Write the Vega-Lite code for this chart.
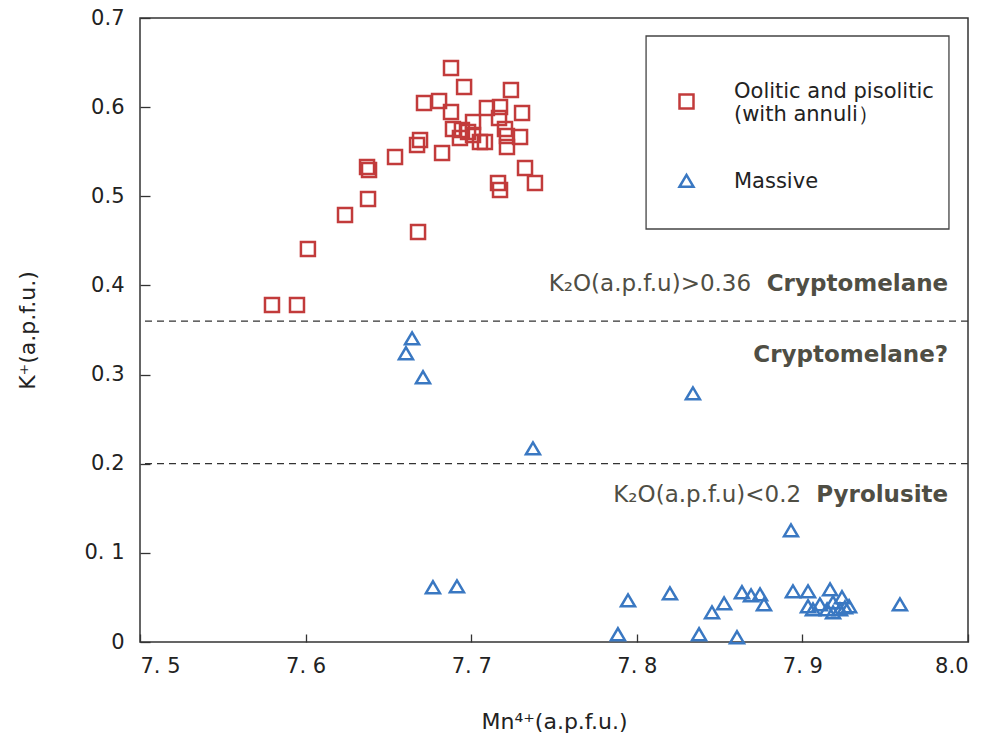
{
  "$schema": "https://vega.github.io/schema/vega-lite/v6.json",
  "width": 828,
  "height": 624,
  "autosize": {"type": "none"},
  "padding": {"left": 140, "top": 18, "right": 19, "bottom": 105},
  "background": "white",
  "data": {
    "values": [
      {"mn": 7.6878, "k": 0.6439, "type": "Oolitic and pisolitic (with annuli）"},
      {"mn": 7.6957, "k": 0.6226, "type": "Oolitic and pisolitic (with annuli）"},
      {"mn": 7.7240, "k": 0.6193, "type": "Oolitic and pisolitic (with annuli）"},
      {"mn": 7.6715, "k": 0.6047, "type": "Oolitic and pisolitic (with annuli）"},
      {"mn": 7.6806, "k": 0.6069, "type": "Oolitic and pisolitic (with annuli）"},
      {"mn": 7.6878, "k": 0.5946, "type": "Oolitic and pisolitic (with annuli）"},
      {"mn": 7.7095, "k": 0.5991, "type": "Oolitic and pisolitic (with annuli）"},
      {"mn": 7.7174, "k": 0.6002, "type": "Oolitic and pisolitic (with annuli）"},
      {"mn": 7.7168, "k": 0.5878, "type": "Oolitic and pisolitic (with annuli）"},
      {"mn": 7.7307, "k": 0.5934, "type": "Oolitic and pisolitic (with annuli）"},
      {"mn": 7.7011, "k": 0.5834, "type": "Oolitic and pisolitic (with annuli）"},
      {"mn": 7.6890, "k": 0.5755, "type": "Oolitic and pisolitic (with annuli）"},
      {"mn": 7.6944, "k": 0.5744, "type": "Oolitic and pisolitic (with annuli）"},
      {"mn": 7.6981, "k": 0.5721, "type": "Oolitic and pisolitic (with annuli）"},
      {"mn": 7.7011, "k": 0.5688, "type": "Oolitic and pisolitic (with annuli）"},
      {"mn": 7.7053, "k": 0.5609, "type": "Oolitic and pisolitic (with annuli）"},
      {"mn": 7.7083, "k": 0.5609, "type": "Oolitic and pisolitic (with annuli）"},
      {"mn": 7.6932, "k": 0.5654, "type": "Oolitic and pisolitic (with annuli）"},
      {"mn": 7.7204, "k": 0.5755, "type": "Oolitic and pisolitic (with annuli）"},
      {"mn": 7.7216, "k": 0.5676, "type": "Oolitic and pisolitic (with annuli）"},
      {"mn": 7.7295, "k": 0.5665, "type": "Oolitic and pisolitic (with annuli）"},
      {"mn": 7.7216, "k": 0.5553, "type": "Oolitic and pisolitic (with annuli）"},
      {"mn": 7.6824, "k": 0.5486, "type": "Oolitic and pisolitic (with annuli）"},
      {"mn": 7.6673, "k": 0.5575, "type": "Oolitic and pisolitic (with annuli）"},
      {"mn": 7.6691, "k": 0.5632, "type": "Oolitic and pisolitic (with annuli）"},
      {"mn": 7.6540, "k": 0.5441, "type": "Oolitic and pisolitic (with annuli）"},
      {"mn": 7.6371, "k": 0.5329, "type": "Oolitic and pisolitic (with annuli）"},
      {"mn": 7.6383, "k": 0.5295, "type": "Oolitic and pisolitic (with annuli）"},
      {"mn": 7.6377, "k": 0.4970, "type": "Oolitic and pisolitic (with annuli）"},
      {"mn": 7.6238, "k": 0.4790, "type": "Oolitic and pisolitic (with annuli）"},
      {"mn": 7.6679, "k": 0.4600, "type": "Oolitic and pisolitic (with annuli）"},
      {"mn": 7.6014, "k": 0.4409, "type": "Oolitic and pisolitic (with annuli）"},
      {"mn": 7.7325, "k": 0.5318, "type": "Oolitic and pisolitic (with annuli）"},
      {"mn": 7.7385, "k": 0.5149, "type": "Oolitic and pisolitic (with annuli）"},
      {"mn": 7.7162, "k": 0.5149, "type": "Oolitic and pisolitic (with annuli）"},
      {"mn": 7.7174, "k": 0.5071, "type": "Oolitic and pisolitic (with annuli）"},
      {"mn": 7.5797, "k": 0.3781, "type": "Oolitic and pisolitic (with annuli）"},
      {"mn": 7.5948, "k": 0.3781, "type": "Oolitic and pisolitic (with annuli）"},
      {"mn": 7.6643, "k": 0.3399, "type": "Massive"},
      {"mn": 7.6606, "k": 0.3231, "type": "Massive"},
      {"mn": 7.6709, "k": 0.2962, "type": "Massive"},
      {"mn": 7.8339, "k": 0.2782, "type": "Massive"},
      {"mn": 7.7373, "k": 0.2165, "type": "Massive"},
      {"mn": 7.6769, "k": 0.0606, "type": "Massive"},
      {"mn": 7.6914, "k": 0.0617, "type": "Massive"},
      {"mn": 7.8931, "k": 0.1245, "type": "Massive"},
      {"mn": 7.7947, "k": 0.0460, "type": "Massive"},
      {"mn": 7.8200, "k": 0.0538, "type": "Massive"},
      {"mn": 7.7886, "k": 0.0079, "type": "Massive"},
      {"mn": 7.8376, "k": 0.0079, "type": "Massive"},
      {"mn": 7.8605, "k": 0.0045, "type": "Massive"},
      {"mn": 7.8454, "k": 0.0325, "type": "Massive"},
      {"mn": 7.8527, "k": 0.0426, "type": "Massive"},
      {"mn": 7.8635, "k": 0.0550, "type": "Massive"},
      {"mn": 7.8690, "k": 0.0516, "type": "Massive"},
      {"mn": 7.8744, "k": 0.0527, "type": "Massive"},
      {"mn": 7.8768, "k": 0.0415, "type": "Massive"},
      {"mn": 7.8943, "k": 0.0561, "type": "Massive"},
      {"mn": 7.9034, "k": 0.0561, "type": "Massive"},
      {"mn": 7.9034, "k": 0.0393, "type": "Massive"},
      {"mn": 7.9064, "k": 0.0359, "type": "Massive"},
      {"mn": 7.9167, "k": 0.0583, "type": "Massive"},
      {"mn": 7.9106, "k": 0.0415, "type": "Massive"},
      {"mn": 7.9185, "k": 0.0438, "type": "Massive"},
      {"mn": 7.9239, "k": 0.0494, "type": "Massive"},
      {"mn": 7.9227, "k": 0.0359, "type": "Massive"},
      {"mn": 7.9149, "k": 0.0359, "type": "Massive"},
      {"mn": 7.9185, "k": 0.0325, "type": "Massive"},
      {"mn": 7.9257, "k": 0.0381, "type": "Massive"},
      {"mn": 7.9282, "k": 0.0393, "type": "Massive"},
      {"mn": 7.9589, "k": 0.0415, "type": "Massive"}
    ]
  },
  "layer": [
    {
      "data": {"values": [{}]},
      "mark": {"type": "rect", "fill": "white", "stroke": "#444444", "strokeWidth": 1.3},
      "encoding": {
        "x": {"datum": 7.8056, "type": "quantitative"},
        "x2": {"datum": 7.9885},
        "y": {"datum": 0.6798, "type": "quantitative"},
        "y2": {"datum": 0.4633}
      }
    },
    {
      "data": {"values": [{"limit": 0.36}, {"limit": 0.2}]},
      "mark": {"type": "rule", "color": "#333333", "strokeWidth": 1.2, "strokeDash": [7, 5]},
      "encoding": {
        "y": {"field": "limit", "type": "quantitative"}
      }
    },
    {
      "mark": {"type": "point", "filled": false, "size": 196, "strokeWidth": 2.5, "opacity": 1},
      "encoding": {
        "x": {
          "field": "mn", "type": "quantitative",
          "scale": {"domain": [7.5, 8.0], "nice": false, "zero": false},
          "axis": {
            "title": "Mn⁴⁺(a.p.f.u.)",
            "values": [7.5, 7.6, 7.7, 7.8, 7.9, 8.0],
            "labelExpr": "format(datum.value, '.1f') == '8.0' ? '8.0' : replace(format(datum.value, '.1f'), '.', '. ')",
            "tickSize": -8,
            "labelPadding": 21,
            "titlePadding": 35
          }
        },
        "y": {
          "field": "k", "type": "quantitative",
          "scale": {"domain": [0, 0.7], "nice": false},
          "axis": {
            "title": "K⁺(a.p.f.u.)",
            "values": [0, 0.1, 0.2, 0.3, 0.4, 0.5, 0.6, 0.7],
            "labelExpr": "datum.value == 0 ? '0' : format(datum.value, '.1f') == '0.1' ? '0. 1' : format(datum.value, '.1f')",
            "tickSize": -10,
            "labelPadding": 26,
            "titlePadding": 44
          }
        },
        "color": {
          "field": "type", "type": "nominal",
          "scale": {"domain": ["Oolitic and pisolitic (with annuli）", "Massive"], "range": ["#c23b3b", "#3a78c2"]},
          "legend": {
            "title": null,
            "orient": "none",
            "legendX": 536,
            "legendY": 73,
            "direction": "vertical",
            "padding": 0,
            "rowPadding": 44,
            "labelOffset": 37,
            "labelLimit": 400,
            "labelBaseline": {"expr": "datum.value == 'Massive' ? 'middle' : 'bottom'"},
            "symbolSize": 196,
            "symbolStrokeWidth": 2.5,
            "labelExpr": "datum.label == 'Massive' ? datum.label : ['Oolitic and pisolitic', '(with annuli）']"
          }
        },
        "shape": {
          "field": "type", "type": "nominal",
          "scale": {"domain": ["Oolitic and pisolitic (with annuli）", "Massive"], "range": ["square", "M-1,0.75L0,-0.95L1,0.75Z"]},
          "legend": {
            "title": null,
            "orient": "none",
            "legendX": 536,
            "legendY": 73,
            "direction": "vertical",
            "padding": 0,
            "rowPadding": 44,
            "labelOffset": 37,
            "labelLimit": 400,
            "labelBaseline": {"expr": "datum.value == 'Massive' ? 'middle' : 'bottom'"},
            "symbolSize": 196,
            "symbolStrokeWidth": 2.5,
            "labelExpr": "datum.label == 'Massive' ? datum.label : ['Oolitic and pisolitic', '(with annuli）']"
          }
        }
      }
    },
    {
      "data": {"values": [{}]},
      "mark": {"type": "text", "text": "Cryptomelane", "align": "right", "baseline": "middle", "font": "DejaVu Sans", "fontWeight": "bold", "fontSize": 23, "color": "#4f4e44"},
      "encoding": {"x": {"datum": 7.988, "type": "quantitative"}, "y": {"datum": 0.4016, "type": "quantitative"}}
    },
    {
      "data": {"values": [{}]},
      "mark": {"type": "text", "text": "K₂O(a.p.f.u)>0.36", "align": "right", "baseline": "middle", "font": "DejaVu Sans", "fontSize": 23, "color": "#4f4e44", "dx": -197},
      "encoding": {"x": {"datum": 7.988, "type": "quantitative"}, "y": {"datum": 0.4016, "type": "quantitative"}}
    },
    {
      "data": {"values": [{}]},
      "mark": {"type": "text", "text": "Cryptomelane?", "align": "right", "baseline": "middle", "font": "DejaVu Sans", "fontWeight": "bold", "fontSize": 23, "color": "#4f4e44"},
      "encoding": {"x": {"datum": 7.988, "type": "quantitative"}, "y": {"datum": 0.322, "type": "quantitative"}}
    },
    {
      "data": {"values": [{}]},
      "mark": {"type": "text", "text": "Pyrolusite", "align": "right", "baseline": "middle", "font": "DejaVu Sans", "fontWeight": "bold", "fontSize": 23, "color": "#4f4e44"},
      "encoding": {"x": {"datum": 7.988, "type": "quantitative"}, "y": {"datum": 0.165, "type": "quantitative"}}
    },
    {
      "data": {"values": [{}]},
      "mark": {"type": "text", "text": "K₂O(a.p.f.u)<0.2", "align": "right", "baseline": "middle", "font": "DejaVu Sans", "fontSize": 23, "color": "#4f4e44", "dx": -147},
      "encoding": {"x": {"datum": 7.988, "type": "quantitative"}, "y": {"datum": 0.165, "type": "quantitative"}}
    }
  ],
  "config": {
    "view": {"stroke": "#333333", "strokeWidth": 1.5},
    "axis": {
      "domain": false,
      "grid": false,
      "tickColor": "#333333",
      "tickWidth": 1.3,
      "labelFont": "DejaVu Sans",
      "labelFontSize": 21,
      "labelColor": "#222222",
      "titleFont": "DejaVu Sans",
      "titleFontSize": 22,
      "titleFontWeight": "normal",
      "titleColor": "#222222"
    },
    "legend": {
      "labelFont": "DejaVu Sans",
      "labelFontSize": 21,
      "labelColor": "#222222"
    }
  }
}
